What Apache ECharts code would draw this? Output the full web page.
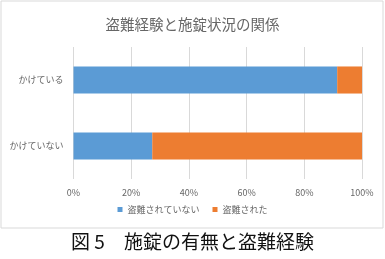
<!DOCTYPE html>
<html><head><meta charset="utf-8">
<script src="https://cdn.jsdelivr.net/npm/echarts@6/dist/echarts.min.js"></script>
<style>html,body{margin:0;padding:0;background:#fff;}#c{width:385px;height:259px;}</style>
</head><body><div id="c"></div>
<script>
const categories = ['かけている', 'かけていない'];
const notStolen = [91.4, 27.3];
const stolen = [8.6, 72.7];
const seriesNames = ['盗難されていない', '盗難された'];
const xTicks = [0, 20, 40, 60, 80, 100];

const chart = echarts.init(document.getElementById('c'), null, {renderer: 'canvas'});
const font = '"Noto Sans CJK JP", "Noto Sans", sans-serif';
chart.setOption({
  animation: false,
  textStyle: {fontFamily: font},
  graphic: [{
    type: 'rect', shape: {x: 1, y: 1, width: 382, height: 227},
    style: {fill: 'none', stroke: '#d9d9d9', lineWidth: 1}, z: -1
  }, {
    type: 'text', left: 'center', top: 232,
    style: {text: '図 5　施錠の有無と盗難経験', fill: '#111', font: '19px ' + font}
  }],
  title: {
    text: '盗難経験と施錠状況の関係', left: 'center', top: 12,
    textStyle: {fontSize: 14.5, fontWeight: 'normal', color: '#666', fontFamily: font}
  },
  legend: {
    data: seriesNames, bottom: 40, left: 'center', icon: 'rect', itemWidth: 5, itemHeight: 5,
    itemGap: 13, textStyle: {fontSize: 9, color: '#666', fontFamily: font}
  },
  grid: {left: 73.5, right: 23, top: 47, height: 132},
  xAxis: {
    type: 'value', min: 0, max: 100, interval: 20,
    axisLabel: {formatter: v => xTicks.includes(v) ? v + '%' : '', fontSize: 9, color: '#666', margin: 9, fontFamily: font},
    splitLine: {lineStyle: {color: '#d9d9d9'}},
    axisLine: {show: false}, axisTick: {show: false}
  },
  yAxis: {
    type: 'category', data: categories, inverse: true,
    axisLabel: {fontSize: 9, color: '#666', margin: 10, fontFamily: font},
    axisLine: {show: false}, axisTick: {show: false}
  },
  series: [
    {name: seriesNames[0], type: 'bar', stack: 's', data: notStolen, barCategoryGap: '59%', itemStyle: {color: '#5B9BD5'}},
    {name: seriesNames[1], type: 'bar', stack: 's', data: stolen, itemStyle: {color: '#ED7D31'}}
  ]
});
</script></body></html>
